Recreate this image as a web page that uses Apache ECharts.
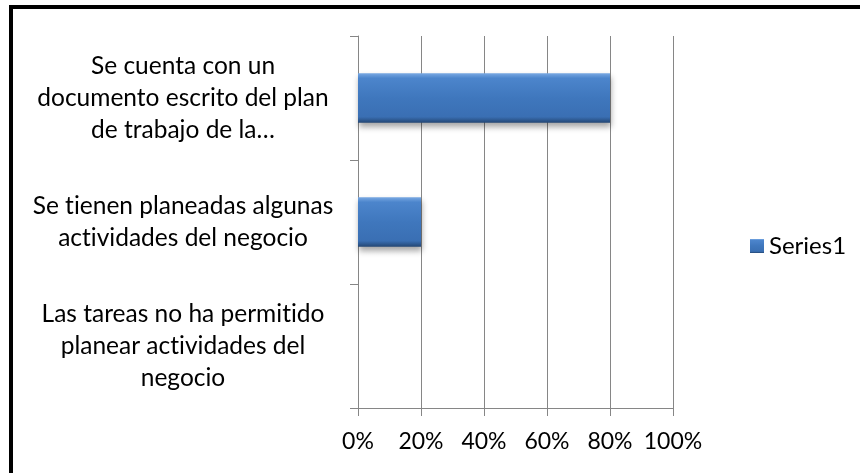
<!DOCTYPE html>
<html>
<head>
<meta charset="utf-8">
<script src="https://cdn.jsdelivr.net/npm/echarts@6/dist/echarts.min.js"></script>
<style>
  html, body { margin: 0; padding: 0; background: #fff; }
  #chart { width: 860px; height: 473px; }
</style>
</head>
<body>
<div id="chart"></div>
<script>
// Categories, top to bottom
const categories = [
  'Se cuenta con un\ndocumento escrito del plan\nde trabajo de la…',
  'Se tienen planeadas algunas\nactividades del negocio',
  'Las tareas no ha permitido\nplanear actividades del\nnegocio'
];
// Share of answers per category (fraction of 1)
const series1 = [0.8, 0.2, 0];
const seriesName = 'Series1';

const FONT = 'Lato';
// Lato joins "ti" into a ligature; a zero-width non-joiner keeps the letters apart
const noLigature = s => s.replace(/t(?=i)/g, 't\u200C');

const barFill = new echarts.graphic.LinearGradient(0, 0, 0, 1, [
  { offset: 0, color: '#79a9e3' },
  { offset: 0.1, color: '#4c85cc' },
  { offset: 0.5, color: '#3f77bd' },
  { offset: 0.88, color: '#3a6fb3' },
  { offset: 1, color: '#234673' }
]);

const chart = echarts.init(document.getElementById('chart'), null, { renderer: 'canvas' });
chart.setOption({
  animation: false,
  backgroundColor: '#ffffff',
  textStyle: { fontFamily: FONT },
  grid: { left: 358, right: 187, top: 36, bottom: 65, containLabel: false },
  legend: {
    data: [seriesName],
    left: 745, top: 229,
    itemWidth: 14, itemHeight: 14, itemGap: 6,
    icon: 'rect',
    textStyle: { fontFamily: FONT, fontSize: 24, color: '#000' }
  },
  xAxis: {
    type: 'value',
    min: 0, max: 1, interval: 0.2,
    axisLine: { show: true, lineStyle: { color: '#868686', width: 1 } },
    axisTick: { show: true, length: 8, lineStyle: { color: '#868686' } },
    splitLine: { show: true, lineStyle: { color: '#868686', width: 1 } },
    axisLabel: {
      margin: 22,
      fontFamily: FONT, fontSize: 23, color: '#000',
      formatter: v => Math.round(v * 100) + '%'
    }
  },
  yAxis: {
    type: 'category',
    inverse: true,
    data: categories,
    axisLine: { show: true, lineStyle: { color: '#868686', width: 1 } },
    axisTick: { show: true, length: 8, lineStyle: { color: '#868686' } },
    splitLine: { show: false },
    axisLabel: {
      align: 'center',
      margin: 175,
      fontFamily: FONT, fontSize: 24.5, lineHeight: 32, color: '#000',
      formatter: noLigature
    }
  },
  series: [{
    name: seriesName,
    type: 'bar',
    data: series1,
    barWidth: '40%',
    itemStyle: {
      color: barFill,
      shadowBlur: 6,
      shadowOffsetY: 4,
      shadowOffsetX: 1,
      shadowColor: 'rgba(0,0,0,0.35)'
    }
  }],
  graphic: [{
    type: 'rect',
    silent: true,
    shape: { x: 11, y: 7, width: 900, height: 520 },
    style: { fill: 'none', stroke: '#000', lineWidth: 4 }
  }]
});
</script>
</body>
</html>
